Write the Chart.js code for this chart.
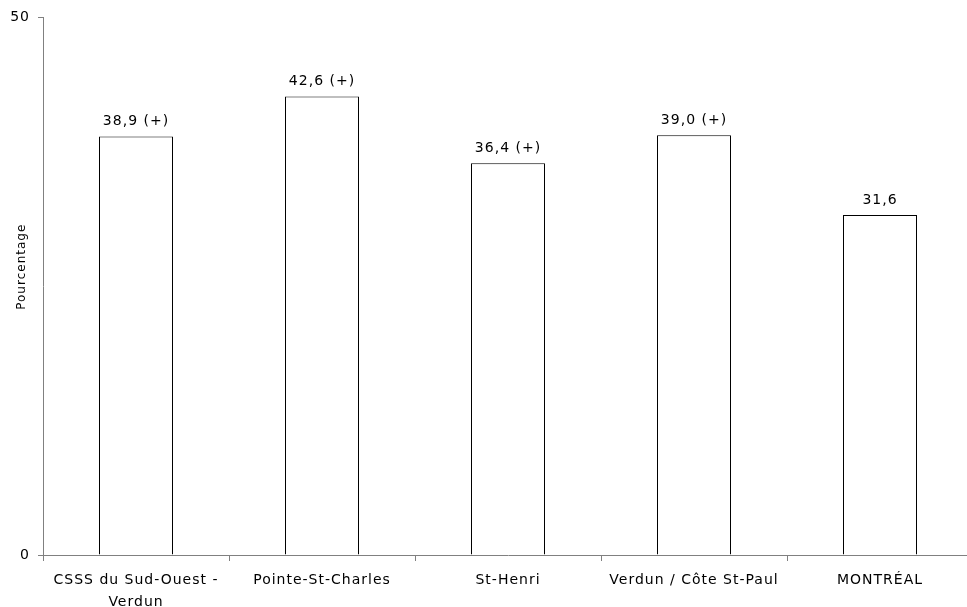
<!DOCTYPE html>
<html>
<head>
<meta charset="utf-8">
<script src="https://cdn.jsdelivr.net/npm/chart.js@4"></script>
<style>
  html, body { margin: 0; padding: 0; background: #fff; overflow: hidden; }
  #wrap { width: 979px; height: 607px; }
</style>
</head>
<body>
<div id="wrap"><canvas id="chart"></canvas></div>
<script>
// Data
const categories = [['CSSS du Sud-Ouest -', 'Verdun'], 'Pointe-St-Charles', 'St-Henri', 'Verdun / Côte St-Paul', 'MONTRÉAL'];
const values = [38.9, 42.6, 36.4, 39.0, 31.6];
const flags = ['(+)', '(+)', '(+)', '(+)', ''];
const yTicks = [0, 50];

const FAMILY = 'Verdana, "DejaVu Sans", sans-serif';
const AXIS = '#808080';

// wider spacing, like the original rendering
function spacing(chart) {
  chart.ctx.letterSpacing = '1px';
}

const spacingPlugin = {
  id: 'spacing',
  beforeUpdate: spacing,
  beforeLayout: spacing,
  beforeDraw: spacing
};

// value labels above bars
const valueLabels = {
  id: 'valueLabels',
  afterDatasetsDraw(chart) {
    const ctx = chart.ctx;
    const meta = chart.getDatasetMeta(0);
    ctx.save();
    ctx.letterSpacing = '1px';
    ctx.font = '14px ' + FAMILY;
    ctx.fillStyle = '#000';
    ctx.textAlign = 'center';
    ctx.textBaseline = 'bottom';
    meta.data.forEach((bar, i) => {
      let txt = values[i].toFixed(1).replace('.', ',');
      if (flags[i]) txt += ' ' + flags[i];
      ctx.fillText(txt, bar.x, bar.y - 8);
    });
    ctx.restore();
  }
};

document.addEventListener('DOMContentLoaded', function() {
  const ctx = document.getElementById('chart');
  new Chart(ctx, {
    type: 'bar',
    data: {
      labels: categories,
      datasets: [{
        data: values,
        backgroundColor: '#ffffff',
        borderColor: '#000000',
        borderWidth: 1,
        barPercentage: 74 / 186,
        categoryPercentage: 1
      }]
    },
    options: {
      responsive: true,
      maintainAspectRatio: false,
      animation: false,
      layout: { padding: { top: 17, right: 6, left: 0, bottom: 0 } },
      plugins: {
        legend: { display: false },
        tooltip: { enabled: false }
      },
      scales: {
        x: {
          grid: { offset: true, drawOnChartArea: false, tickLength: 6, color: AXIS },
          border: { color: AXIS },
          ticks: {
            font: { family: FAMILY, size: 14, lineHeight: 1.55 },
            color: '#000',
            padding: 9,
            maxRotation: 0,
            autoSkip: false
          },
          afterFit(scale) { scale.height = 52; }
        },
        y: {
          min: yTicks[0],
          max: yTicks[yTicks.length - 1],
          grid: { drawOnChartArea: false, tickLength: 5, color: AXIS },
          border: { color: AXIS },
          ticks: {
            stepSize: yTicks[1] - yTicks[0],
            font: { family: FAMILY, size: 14 },
            color: '#000',
            padding: 8
          },
          title: {
            display: true,
            text: '        Pourcentage',
            font: { family: FAMILY, size: 12 },
            color: '#000',
            padding: { top: 15, bottom: 0 }
          },
          afterFit(scale) { scale.width = 43; }
        }
      }
    },
    plugins: [spacingPlugin, valueLabels]
  });
});
</script>
</body>
</html>
